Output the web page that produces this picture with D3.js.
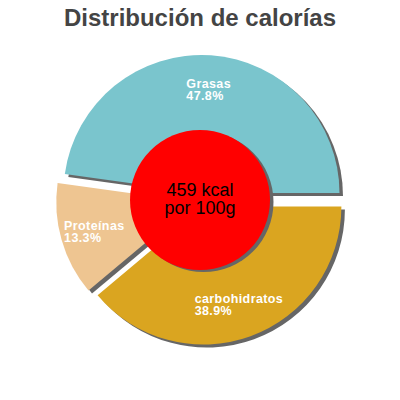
<!DOCTYPE html>
<html lang="es">
<head>
    <meta charset="UTF-8">
    <title>Distribución de calorías</title>
    <style>
        body{
            margin: 0;
            font-family: "Liberation Sans", Arial, Helvetica, sans-serif;
        }
        svg{
            width: 400px;
            height: 400px;
            display: block;
        }
        .title{
            font-size: 24px;
            font-weight: bold;
            fill: #444;
            text-anchor: middle;
        }
        .slice-label{
            font-size: 12.5px;
            font-weight: bold;
            letter-spacing: 0.4px;
            fill: #fff;
        }
        .center-label{
            font-size: 18px;
            text-anchor: middle;
            fill: #000;
        }
    </style>
    <script src="https://d3js.org/d3.v7.min.js"></script>
</head>
<body>
    <script>
        var categories = ["Grasas", "Proteínas", "carbohidratos"];
        var percents = [47.8, 13.3, 38.9];
        var percentLabels = ["47.8%", "13.3%", "38.9%"];
        var colors = ["#7AC5CD", "#EEC591", "#DAA520"];
        var centerLines = ["459 kcal", "por 100g"];

        var cx = 201, cy = 200;
        var radius = 138;
        var innerCircle = 70;
        var explode = 7;
        var labelRadius = 104;
        var shadowDx = 3.5, shadowDy = 3;

        var svg = d3.select("body").append("svg")
                    .attr("viewBox", "0 0 400 400");

        svg.append("text")
            .attr("class", "title")
            .attr("x", 200)
            .attr("y", 26)
            .text("Distribución de calorías");

        // pie starts at 3 o'clock and runs counter-clockwise
        var pie = d3.pie()
                    .sort(null)
                    .startAngle(Math.PI / 2)
                    .endAngle(Math.PI / 2 - 2 * Math.PI);
        var arcs = pie(percents);

        var arc = d3.arc()
                    .innerRadius(0)
                    .outerRadius(radius);

        function offset(d){
            var a = (d.startAngle + d.endAngle) / 2;
            return [explode * Math.sin(a), -explode * Math.cos(a)];
        }

        var chart = svg.append("g")
                    .attr("transform", "translate(" + cx + "," + cy + ")");

        // shadows first
        var shadows = chart.append("g").attr("fill", "#666");
        arcs.forEach(function(d){
            var o = offset(d);
            shadows.append("path")
                .attr("d", arc(d))
                .attr("transform", "translate(" + (o[0] + shadowDx) + "," + (o[1] + shadowDy) + ")");
        });

        var slices = chart.append("g");
        arcs.forEach(function(d, i){
            var o = offset(d);
            slices.append("path")
                .attr("d", arc(d))
                .attr("fill", colors[i])
                .attr("transform", "translate(" + o[0] + "," + o[1] + ")");
        });

        // labels: two left-aligned lines, block centred on the bisector
        var labels = chart.append("g").attr("class", "slice-label");
        arcs.forEach(function(d, i){
            var o = offset(d);
            var a = (d.startAngle + d.endAngle) / 2;
            var px = o[0] + labelRadius * Math.sin(a);
            var py = o[1] - labelRadius * Math.cos(a);
            var t = labels.append("text").attr("y", py - 1);
            t.append("tspan").attr("x", 0).text(categories[i]);
            t.append("tspan").attr("x", 0).attr("dy", 12).text(percentLabels[i]);
            var w = t.node().getBBox().width;
            t.selectAll("tspan").attr("x", px - w / 2);
        });

        // centre disc
        chart.append("circle")
            .attr("cx", shadowDx - 1)
            .attr("cy", shadowDy - 1)
            .attr("r", innerCircle)
            .attr("fill", "#666");
        chart.append("circle")
            .attr("cx", -1)
            .attr("cy", 0)
            .attr("r", innerCircle)
            .attr("fill", "#ff0000");

        var center = chart.append("text")
                    .attr("class", "center-label")
                    .attr("x", -1)
                    .attr("y", -4);
        center.append("tspan").attr("x", -1).text(centerLines[0]);
        center.append("tspan").attr("x", -1).attr("dy", 18).text(centerLines[1]);
    </script>
</body>
</html>
